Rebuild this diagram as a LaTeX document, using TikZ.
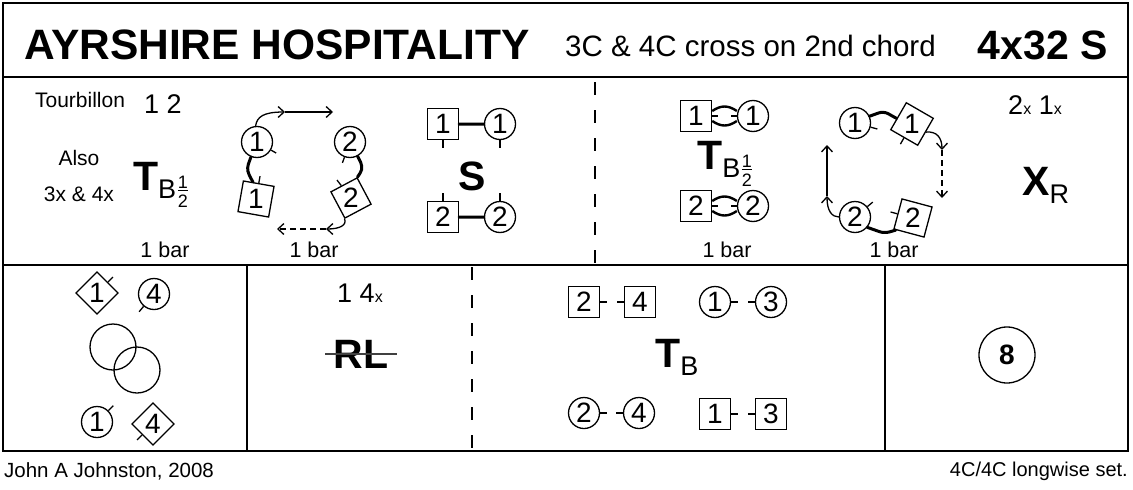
\documentclass[tikz,border=0pt]{standalone}
\usepackage{fontspec}
\setmainfont{Liberation Sans}
\usetikzlibrary{arrows.meta,shapes.geometric}
\newcommand\subB[1]{\raisebox{-8pt}{\fontsize{27}{27}\selectfont\mdseries #1}}
\newcommand\halfsub{\kern1.5pt\raisebox{-9pt}{\fontsize{18}{18}\selectfont\vbox{\hbox{1}\kern2pt\hrule height 0.9pt\kern3.5pt\hbox{2}}}}
\newcommand\smx{{\fontsize{16}{16}\selectfont x}}
\begin{document}
\begin{tikzpicture}[x=1pt,y=-1pt,
  frame/.style={line width=2pt},
  dashdiv/.style={line width=2pt, dash pattern=on 13pt off 15pt},
  dcirc/.style={circle, draw, line width=1.3pt, minimum size=31pt, inner sep=0pt, font=\fontsize{28}{28}\selectfont},
  dsq/.style={regular polygon, regular polygon sides=4, draw, line width=1.3pt, minimum size=44pt, inner sep=0pt, shape border rotate=0, font=\fontsize{28}{28}\selectfont},
  ddia/.style={regular polygon, regular polygon sides=4, draw, line width=1.3pt, minimum size=42pt, inner sep=0pt, shape border rotate=45, font=\fontsize{28}{28}\selectfont},
  tick/.style={line width=1.3pt},
  hold/.style={line width=3pt, line join=round, line cap=round},
  arr/.style={line width=1.3pt, -{Straight Barb[length=6pt,width=11pt,line width=1.3pt]}},
  darr/.style={arr, dash pattern=on 6pt off 4pt},
  small/.style={font=\fontsize{21}{22}\selectfont, inner sep=0pt},
  bar/.style={font=\fontsize{21.5}{22}\selectfont, inner sep=0pt},
  mid/.style={font=\fontsize{27}{28}\selectfont, inner sep=0pt},
  big/.style={font=\fontsize{41}{41}\selectfont\bfseries, inner sep=0pt},
]
\useasboundingbox (0,0) rectangle (1133,490);
% frames
\draw[frame] (3,3) rectangle (1128,77);
\draw[frame] (3,77) rectangle (1128,265);
\draw[frame] (3,265) rectangle (1128,451);
\draw[frame] (247,265) -- (247,451);
\draw[frame] (885,265) -- (885,451);
\draw[dashdiv] (595,82) -- (595,263);
\draw[dashdiv] (472,267) -- (472,451);

% header
\node[anchor=west, inner sep=0pt, font=\fontsize{42.5}{44}\selectfont\bfseries] (title) at (24,45) {AYRSHIRE HOSPITALITY};
\node[anchor=west, inner sep=0pt, font=\fontsize{29.5}{30}\selectfont] (sub) at (565,46) {3C \& 4C cross on 2nd chord};
\node[anchor=east, inner sep=0pt, font=\fontsize{41}{42}\selectfont\bfseries] (form) at (1108,45) {4x32 S};

% row 1 left labels
\node[small] (tourb) at (80,100) {Tourbillon};
\node[mid] (bars12) at (163,104) {1 2};
\node[small] (also) at (79,158) {Also};
\node[small] (also2) at (79,194) {3x \& 4x};
\node[big, anchor=base west] (tb1) at (133,190) {T\subB{B\halfsub}};
\node[bar] (bar1) at (165,250) {1 bar};

% tourbillon figure (left)
\node[dcirc] (n1a) at (257,142) {1};
\node[dsq, shape border rotate=-10] (s1a) at (256,199) {1};
\node[dcirc] (n2a) at (350,142) {2};
\node[ddia, shape border rotate=28] (d2a) at (351,198) {2};
\draw[tick] (n1a.-30) -- ++(-30:6pt);
\draw[tick] (s1a.80) -- ++(80:7pt);
\draw[tick] (n2a.-110) -- ++(-110:6pt);
\draw[tick] (d2a.128) -- ++(128:7pt);
\draw[hold, rounded corners=4pt] (n1a.-112) -- ++(-4,11) -- ++(2,7) -- (s1a.100);
\draw[hold, rounded corners=4pt] (n2a.-62) -- ++(5,10) -- ++(-2,7) -- (d2a.73);
\coordinate (a1m) at (285,112);
\coordinate (a1e) at (333,112);
\draw[arr] (n1a.95) .. controls (257,117) and (263,112) .. (a1m);
\draw[arr] (a1m) -- (a1e);
\coordinate (b1m) at (326,229);
\coordinate (b1e) at (277,229);
\draw[arr] (d2a.253) .. controls (347,225) and (340,229) .. (b1m);
\draw[darr] (b1m) -- (b1e);
\node[bar] (bar2) at (314,250) {1 bar};

% S figure
\node[dsq] (b1s) at (443,124) {1};
\node[dcirc] (c1s) at (500,124) {1};
\node[dsq] (b2s) at (443,217) {2};
\node[dcirc] (c2s) at (500,217) {2};
\draw[hold] (b1s.east) -- (c1s.west);
\draw[hold] (b2s.east) -- (c2s.west);
\draw[tick] (b1s.south) -- ++(0,8);
\draw[tick] (c1s.south) -- ++(0,8);
\draw[tick] (b2s.north) -- ++(0,-8);
\draw[tick] (c2s.north) -- ++(0,-8);
\node[big] (sfig) at (472,176) {S};

% tourbillon figure (right, handed)
\node[dsq] (b1t) at (696,116) {1};
\node[dcirc] (c1t) at (753,116) {1};
\node[dsq] (b2t) at (696,206) {2};
\node[dcirc] (c2t) at (753,206) {2};
\foreach \b/\c in {b1t/c1t, b2t/c2t}{
  \draw[line width=2.4pt] ([yshift=5pt]\b.east) .. controls +(9,-6) and +(-9,-6) .. ([yshift=5pt]\c.west);
  \draw[line width=2.4pt] ([yshift=-5pt]\b.east) .. controls +(9,6) and +(-9,6) .. ([yshift=-5pt]\c.west);
  \draw[line width=1.5pt] (\b.east) -- ++(6,0);
  \draw[line width=1.5pt] (\c.west) -- ++(-6,0);
}
\node[big, anchor=base west] (tb2) at (697,169) {T\subB{B\halfsub}};
\node[bar] (bar3) at (727,250) {1 bar};

% right figure
\node[dcirc] (c1r) at (855,123) {1};
\node[dsq, shape border rotate=-30] (s1r) at (912,124) {1};
\node[dcirc] (c2r) at (855,217) {2};
\node[dsq, shape border rotate=-15] (s2r) at (913,218) {2};
\draw[tick] (c1r.-15) -- ++(-15:7pt);
\draw[tick] (s1r.-120) -- ++(-120:7pt);
\draw[tick] (c2r.40) -- ++(40:7pt);
\draw[tick] (s2r.165) -- ++(165:7pt);
\draw[hold, rounded corners=5pt] (c1r.25) -- ++(14,-5) -- (s1r.160);
\draw[hold, rounded corners=5pt] (c2r.-40) -- ++(17,6) -- (s2r.-145);
\coordinate (r1m) at (942,150);
\coordinate (r1e) at (942,198);
\draw[arr] (s1r.-30) .. controls (937,131) and (942,138) .. (r1m);
\draw[darr] (r1m) -- (r1e);
\coordinate (l1m) at (827,196);
\coordinate (l1e) at (827,145);
\draw[arr] (c2r.180) .. controls (832,217) and (827,211) .. (l1m);
\draw[arr] (l1m) -- (l1e);
\node[bar] (bar4) at (894,250) {1 bar};
\node[mid] (bars21) at (1035,105) {2\smx\ 1\smx};
\node[big, anchor=base west] (xr) at (1022,195) {X\subB{R}};

% row 2, left cell
\node[ddia] (d1) at (97,293) {1};
\node[dcirc] (c4) at (154,294) {4};
\node[dcirc] (c1b) at (97,422) {1};
\node[ddia] (d4) at (153,424) {4};
\draw[tick] (d1.45) -- ++(45:7pt);
\draw[tick] (c4.-130) -- ++(-130:7pt);
\draw[tick] (c1b.45) -- ++(45:7pt);
\draw[tick] (d4.-135) -- ++(-135:7pt);
\node[circle, draw, line width=1.3pt, minimum size=46pt, inner sep=0pt] (ringa) at (113,347) {};
\node[circle, draw, line width=1.3pt, minimum size=46pt, inner sep=0pt] (ringb) at (137,370) {};

% row 2, rights and lefts
\node[mid] (bars14) at (360,293) {1 4\smx};
\node[big] (rl) at (361,354) {RL};
\draw[line width=1.6pt, black!75] ([xshift=-8pt]rl.west) -- ([xshift=8pt]rl.east);

% row 2, tourbillon positions
\node[dsq] (p2a) at (584,302) {2};
\node[dsq] (p4a) at (640,302) {4};
\node[dcirc] (p1a) at (715,302) {1};
\node[dcirc] (p3a) at (771,302) {3};
\node[dcirc] (p2b) at (584,413) {2};
\node[dcirc] (p4b) at (639,413) {4};
\node[dsq] (p1b) at (715,414) {1};
\node[dsq] (p3b) at (771,414) {3};
\foreach \r/\l in {p2a/p4a, p1a/p3a, p2b/p4b, p1b/p3b}{
  \draw[tick] (\r.east) -- ++(7,0);
  \draw[tick] (\l.west) -- ++(-7,0);
}
\node[big, anchor=base west] (tb3) at (655,367) {T\subB{B}};

% bars
\node[circle, draw, line width=1.3pt, minimum size=56pt, inner sep=0pt, font=\fontsize{28}{28}\selectfont\bfseries] (eight) at (1007,355) {8};

% footer
\node[anchor=west, inner sep=0pt, font=\fontsize{20.5}{22}\selectfont] (auth) at (4,471) {John A Johnston, 2008};
\node[anchor=east, inner sep=0pt, font=\fontsize{20}{22}\selectfont] (set) at (1128,471) {4C/4C longwise set.};
\end{tikzpicture}
\end{document}
